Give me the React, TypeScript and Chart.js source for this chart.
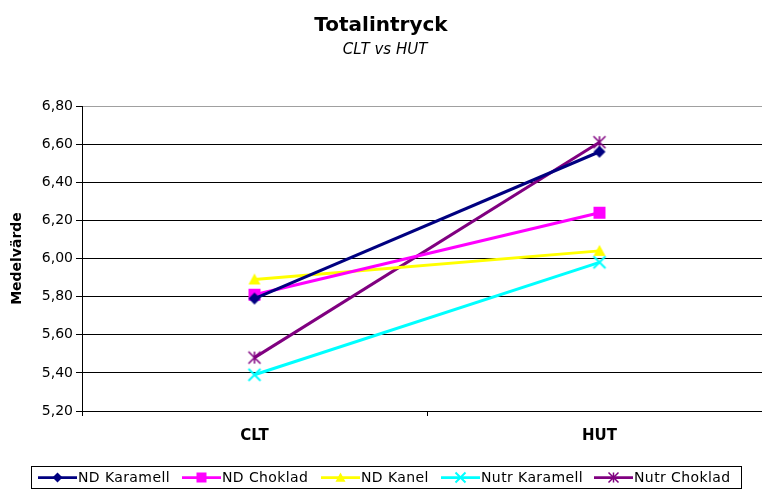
import React, { useEffect, useRef } from 'react';
import { Chart, registerables } from 'chart.js';

Chart.register(...registerables);

// ---- data ----
const categories = ['CLT', 'HUT'];
const seriesNames = ['ND Karamell', 'ND Choklad', 'ND Kanel', 'Nutr Karamell', 'Nutr Choklad'];
const ndKaramell = [5.79, 6.56];
const ndChoklad = [5.81, 6.24];
const ndKanel = [5.89, 6.04];
const nutrKaramell = [5.39, 5.98];
const nutrChoklad = [5.48, 6.61];
const yTickLabels = ['5,20', '5,40', '5,60', '5,80', '6,00', '6,20', '6,40', '6,60', '6,80'];
const titleText = 'Totalintryck';
const subtitleText = 'CLT vs HUT';
const yAxisTitle = 'Medelvärde';

// ---- styles ----
const FONT = '"DejaVu Sans", "Liberation Sans", Arial, sans-serif';
const seriesColors = ['#000080', '#FF00FF', '#FFFF00', '#00FFFF', '#800080'];
const seriesMarkers = ['diamond', 'square', 'triangle', 'x', 'star'];
const seriesValues = [ndKaramell, ndChoklad, ndKanel, nutrKaramell, nutrChoklad];
const PLOT_RIGHT = 772; // plot area continues past the right edge of the picture

function drawMarker(ctx: CanvasRenderingContext2D, kind: string, cx: number, cy: number, s: number, color: string) {
  const h = s / 2;
  ctx.save();
  ctx.fillStyle = color;
  ctx.strokeStyle = color;
  ctx.beginPath();
  if (kind === 'diamond') {
    ctx.moveTo(cx, cy - h);
    ctx.lineTo(cx + h, cy);
    ctx.lineTo(cx, cy + h);
    ctx.lineTo(cx - h, cy);
    ctx.closePath();
    ctx.fill();
  } else if (kind === 'square') {
    ctx.rect(cx - h, cy - h, s, s);
    ctx.fill();
  } else if (kind === 'triangle') {
    ctx.moveTo(cx, cy - h);
    ctx.lineTo(cx + h, cy + h * 0.85);
    ctx.lineTo(cx - h, cy + h * 0.85);
    ctx.closePath();
    ctx.fill();
  } else if (kind === 'x') {
    ctx.lineWidth = 2;
    ctx.moveTo(cx - h, cy - h);
    ctx.lineTo(cx + h, cy + h);
    ctx.moveTo(cx + h, cy - h);
    ctx.lineTo(cx - h, cy + h);
    ctx.stroke();
  } else if (kind === 'star') {
    ctx.lineWidth = 1.5;
    ctx.moveTo(cx - h, cy - h);
    ctx.lineTo(cx + h, cy + h);
    ctx.moveTo(cx + h, cy - h);
    ctx.lineTo(cx - h, cy + h);
    ctx.moveTo(cx, cy - h);
    ctx.lineTo(cx, cy + h);
    ctx.stroke();
  }
  ctx.restore();
}

function makeMarkerImage(kind: string, s: number, color: string) {
  const c = document.createElement('canvas');
  const size = Math.ceil(s + 4);
  c.width = size;
  c.height = size;
  const ctx = c.getContext('2d')!;
  drawMarker(ctx, kind, size / 2, size / 2, s, color);
  return c;
}

const extendPlotPlugin = {
  id: 'extendPlot',
  afterLayout(chart: any) {
    const area = chart.chartArea;
    area.right = PLOT_RIGHT;
    area.width = PLOT_RIGHT - area.left;
    const xs = chart.scales.x;
    xs.right = PLOT_RIGHT;
    xs.width = PLOT_RIGHT - xs.left;
    xs.configure();
  },
};

const headerPlugin = {
  id: 'header',
  afterDraw(chart: any) {
    const ctx = chart.ctx as CanvasRenderingContext2D;
    ctx.save();
    ctx.fillStyle = '#000';
    ctx.textAlign = 'center';
    ctx.textBaseline = 'middle';
    ctx.font = `bold 20px ${FONT}`;
    ctx.fillText(titleText, 381, 26);
    ctx.font = `italic 15px ${FONT}`;
    ctx.fillText(subtitleText, 385, 50);
    ctx.restore();
  },
};

const legendPlugin = {
  id: 'boxLegend',
  afterDraw(chart: any) {
    const ctx = chart.ctx as CanvasRenderingContext2D;
    ctx.save();
    ctx.strokeStyle = '#000';
    ctx.lineWidth = 1;
    ctx.strokeRect(31.5, 466.5, 710, 22);
    const cy = 477.5;
    const starts = [38, 182, 321, 441, 594];
    ctx.font = `14px ${FONT}`;
    (ctx as any).letterSpacing = '0.4px';
    ctx.textBaseline = 'middle';
    ctx.textAlign = 'left';
    seriesNames.forEach((name, i) => {
      const x0 = starts[i];
      ctx.strokeStyle = seriesColors[i];
      ctx.lineWidth = 2.75;
      ctx.beginPath();
      ctx.moveTo(x0, cy);
      ctx.lineTo(x0 + 39, cy);
      ctx.stroke();
      drawMarker(ctx, seriesMarkers[i], x0 + 19.5, cy, 10, seriesColors[i]);
      ctx.fillStyle = '#000';
      ctx.fillText(name, x0 + 40, cy + 0.5);
    });
    ctx.restore();
  },
};

export default function App() {
  const canvasRef = useRef<HTMLCanvasElement | null>(null);

  useEffect(() => {
    const canvas = canvasRef.current;
    if (!canvas) return;
    const datasets = seriesNames.map((name, i) => ({
      label: name,
      data: seriesValues[i],
      borderColor: seriesColors[i],
      backgroundColor: seriesColors[i],
      borderWidth: 3,
      pointStyle: makeMarkerImage(seriesMarkers[i], 12, seriesColors[i]) as any,
      pointRadius: 6,
      tension: 0,
      fill: false,
    }));
    const chart = new Chart(canvas, {
      type: 'line',
      data: { labels: categories, datasets },
      options: {
        responsive: false,
        animation: false,
        events: [],
        layout: { padding: { top: 106, left: 0, right: 0, bottom: 40 } },
        plugins: {
          legend: { display: false },
          title: { display: false },
          tooltip: { enabled: false },
        },
        scales: {
          x: {
            offset: true,
            grid: {
              offset: true,
              drawOnChartArea: false,
              drawTicks: true,
              tickLength: 5,
              color: '#000',
            },
            border: { color: '#000', width: 1 },
            ticks: {
              color: '#000',
              font: { family: FONT, size: 15, weight: 'bold' },
              padding: 11,
            },
            afterFit: (s: any) => {
              s.height = 39;
            },
          },
          y: {
            min: 5.2,
            max: 6.8,
            ticks: {
              stepSize: 0.2,
              color: '#000',
              font: { family: FONT, size: 14 },
              padding: 3,
              callback: (v: any, i: number) => yTickLabels[i] ?? Number(v).toFixed(2).replace('.', ','),
            },
            grid: {
              color: (c: any) => (c.tick && c.tick.value >= 6.79 ? '#a0a0a0' : '#000'),
              tickColor: '#000',
              tickLength: 6,
            },
            border: { color: '#000', width: 1 },
            title: {
              display: true,
              text: yAxisTitle,
              color: '#000',
              font: { family: FONT, size: 14, weight: 'bold' },
              padding: { top: 9, bottom: 0 },
            },
            afterFit: (s: any) => {
              s.width = 82;
            },
          },
        },
      } as any,
      plugins: [extendPlotPlugin, headerPlugin, legendPlugin],
    });
    return () => chart.destroy();
  }, []);

  return (
    <div style={{ position: 'absolute', left: 0, top: 0, width: 762, height: 490, overflow: 'hidden', background: '#fff' }}>
      <canvas ref={canvasRef} width={762} height={490} style={{ width: 762, height: 490, display: 'block' }} />
    </div>
  );
}
